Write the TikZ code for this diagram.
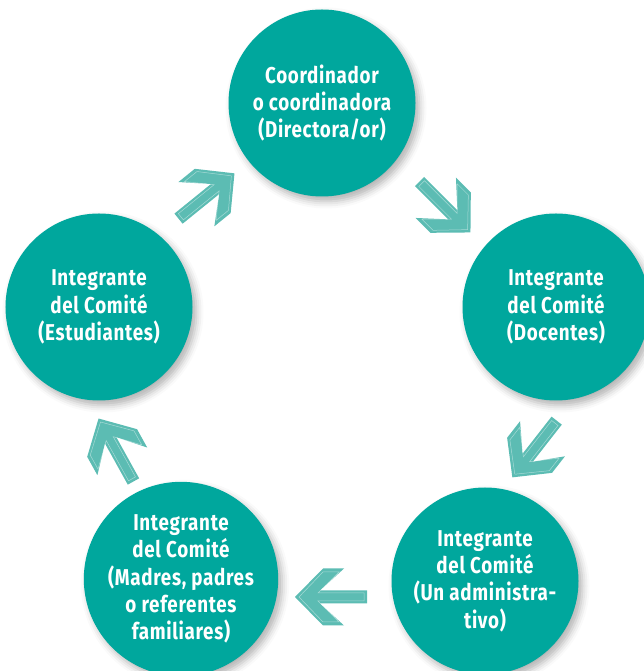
\documentclass[tikz,border=0pt]{standalone}
\usepackage{fontspec}
\setmainfont{Fira Sans}[FakeStretch=0.82, LetterSpace=3]
\usetikzlibrary{calc,shadows.blur}

\definecolor{circteal}{RGB}{0,167,157}
\definecolor{arrteal}{RGB}{92,188,179}

\begin{document}
\begin{tikzpicture}[x=1bp, y=1bp,
        circ/.style={
            circle,
            fill=circteal,
            minimum size=187bp,
            inner sep=0pt,
            text=white,
            align=center,
            font=\bfseries\fontsize{23}{27.5}\selectfont,
            blur shadow={shadow xshift=4bp, shadow yshift=-5bp,
                shadow blur radius=7bp, shadow opacity=30}},
        flecha/.pic={
            \fill[arrteal] (36,0) -- (8,28.5) -- (-13,28.5) -- (11,6.5)
                -- (-36,6.5) -- (-36,-6.5) -- (11,-6.5) -- (-13,-28.5)
                -- (8,-28.5) -- cycle;
            \draw[white, opacity=0.45, line width=0.5bp] (32,0) -- (8,25) -- (-8,25)
                -- (13,4) -- (-33,4) -- (-33,-4) -- (13,-4) -- (-8,-25)
                -- (8,-25) -- cycle;}
        ]
    \useasboundingbox (0,0) rectangle (644,671);

    \node (coord) [circ] at (322,568) {Coordinador\\o coordinadora\\(Directora/or)};
    \node (doc) [circ] at (556,364) {Integrante\\del Comité\\(Docentes)};
    \node (adm) [circ] at (485,90) {Integrante\\del Comité\\(Un administra-\\tivo)};
    \node (fam) [circ] at (181,92) {Integrante\\del Comité\\(Madres, padres\\o referentes\\familiares)};
    \node (est) [circ] at (99,364) {Integrante\\del Comité\\(Estudiantes)};

    \pic[rotate=39] at ($(est)!0.5!(coord)+(-4,9)$) {flecha};
    \pic[rotate=-45] at ($(coord)!0.5!(doc)+(6,-2)$) {flecha};
    \pic[rotate=-128] at ($(doc)!0.5!(adm)+(14,-5)$) {flecha};
    \pic[rotate=180] at ($(adm)!0.5!(fam)+(-2,-17)$) {flecha};
    \pic[rotate=119] at ($(fam)!0.5!(est)+(-24,-7)$) {flecha};

\end{tikzpicture}
\end{document}
